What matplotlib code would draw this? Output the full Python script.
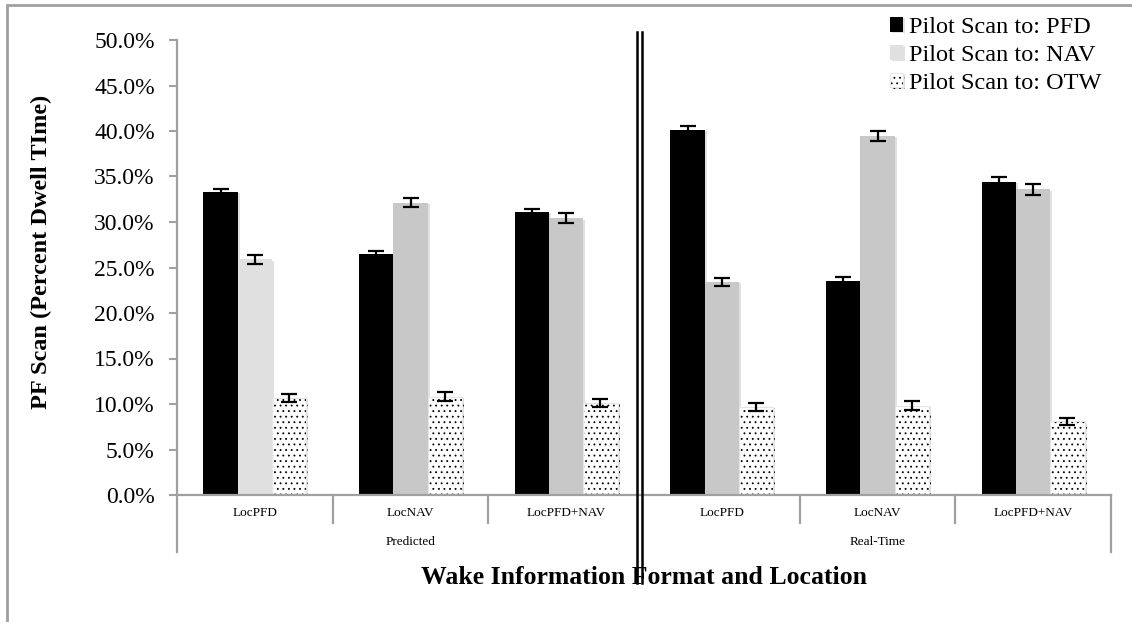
import numpy as np
import matplotlib.pyplot as plt
from matplotlib.lines import Line2D
from matplotlib.patches import Rectangle
import matplotlib.patheffects as pe
from matplotlib.ticker import PercentFormatter

plt.rcParams['font.family'] = ['Liberation Serif', 'DejaVu Serif']
plt.rcParams['hatch.linewidth'] = 0.6

# data (fractions of dwell time)
categories = ['LocPFD', 'LocNAV', 'LocPFD+NAV', 'LocPFD', 'LocNAV', 'LocPFD+NAV']
groups = ['Predicted', 'Real-Time']
series = ['Pilot Scan to: PFD', 'Pilot Scan to: NAV', 'Pilot Scan to: OTW']
pfd = [0.333, 0.265, 0.311, 0.401, 0.235, 0.344]
nav = [0.259, 0.321, 0.304, 0.234, 0.395, 0.336]
otw = [0.107, 0.108, 0.101, 0.097, 0.098, 0.081]
pfd_err = [0.003, 0.0035, 0.0035, 0.0045, 0.0045, 0.006]
nav_err = [0.005, 0.005, 0.0055, 0.004, 0.0055, 0.006]
otw_err = [0.0045, 0.005, 0.0045, 0.0045, 0.005, 0.004]

W, H = 1132, 622
fig = plt.figure(figsize=(W / 100, H / 100), dpi=100)
ax = fig.add_axes([177 / W, 1 - 495 / H, (1111 - 177) / W, (495 - 40) / H])

x = np.arange(len(categories))
bw = 0.22
shadow = [pe.SimplePatchShadow(offset=(1.5, -1), shadow_rgbFace='#888888', alpha=0.25), pe.Normal()]
err_kw = dict(ecolor='black', elinewidth=1.6, capsize=5.5, capthick=1.6)

b1 = ax.bar(x - bw, pfd, bw, color='black', yerr=pfd_err, error_kw=err_kw, zorder=2)
nav_colors = ['#e0e0e0'] + ['#c8c8c8'] * (len(nav) - 1)
b2 = ax.bar(x, nav, bw, color=nav_colors, yerr=nav_err, error_kw=err_kw, zorder=2)
b3 = ax.bar(x + bw, otw, bw, color='white', edgecolor='#e6e6e6', hatch='...',
            linewidth=0.8, yerr=otw_err, error_kw=err_kw, zorder=2)
for bars in (b1, b2, b3):
    for p in bars:
        p.set_path_effects(shadow)
for p in b3:
    p._hatch_color = (0, 0, 0, 1)

ax.set_xlim(-0.5, len(categories) - 0.5)
ax.set_ylim(0, 0.5)
ax.set_yticks(np.arange(0, 0.501, 0.05))
ax.yaxis.set_major_formatter(PercentFormatter(1.0, decimals=1))
ax.tick_params(axis='y', labelsize=17, length=6, width=1.5, color='#a0a0a0', pad=10)
ax.set_xticks([])
for s in ('top', 'right'):
    ax.spines[s].set_visible(False)
for s in ('left', 'bottom'):
    ax.spines[s].set_color('#a0a0a0')
    ax.spines[s].set_linewidth(1.6)

ax.set_ylabel('PF Scan (Percent Dwell TIme)', fontsize=17.5, fontweight='bold')
ax.yaxis.set_label_coords(-125 / (1111 - 177), 0.535)

# category axis below the plot
tr = ax.get_xaxis_transform()
ph = 495 - 40
for k in range(1, len(categories)):
    if k == 3:
        continue
    ax.add_line(Line2D([k - 0.5, k - 0.5], [0, -28 / ph], transform=tr, color='#a0a0a0',
                       lw=1.6, clip_on=False))
for k in (-0.5, len(categories) - 0.5):
    ax.add_line(Line2D([k, k], [0, -57 / ph], transform=tr, color='#a0a0a0',
                       lw=1.6, clip_on=False))
for i, c in enumerate(categories):
    ax.text(i, -18 / ph, c, transform=tr, ha='center', va='center', fontsize=9.5)
for g, gi in enumerate(groups):
    ax.text(1 + 3 * g, -47 / ph, gi, transform=tr, ha='center', va='center', fontsize=9.5)
ax.text(0.5, -82 / ph, 'Wake Information Format and Location', transform=ax.transAxes,
        ha='center', va='center', fontsize=18.5, fontweight='bold')

# double divider between Predicted and Real-Time
for xp in (636.5, 641.5):
    fig.add_artist(Line2D([xp / W, xp / W], [1 - 32 / H, 1 - 583 / H], color='black', lw=1.8))

# outer chart border
fig.add_artist(Rectangle((7 / W, -0.1), 1.2, 1.1 - 5 / H, fill=False, edgecolor='#a0a0a0', lw=2))

ax.legend([b1, b2, b3], series, loc='upper left', bbox_to_anchor=(890 / W, 1 - 17 / H),
          bbox_transform=fig.transFigure, frameon=False, fontsize=17.5, handlelength=0.55,
          handleheight=0.55, handletextpad=0.25, labelspacing=0.28, borderpad=0,
          borderaxespad=0)

fig.savefig('out.png', dpi=100)
